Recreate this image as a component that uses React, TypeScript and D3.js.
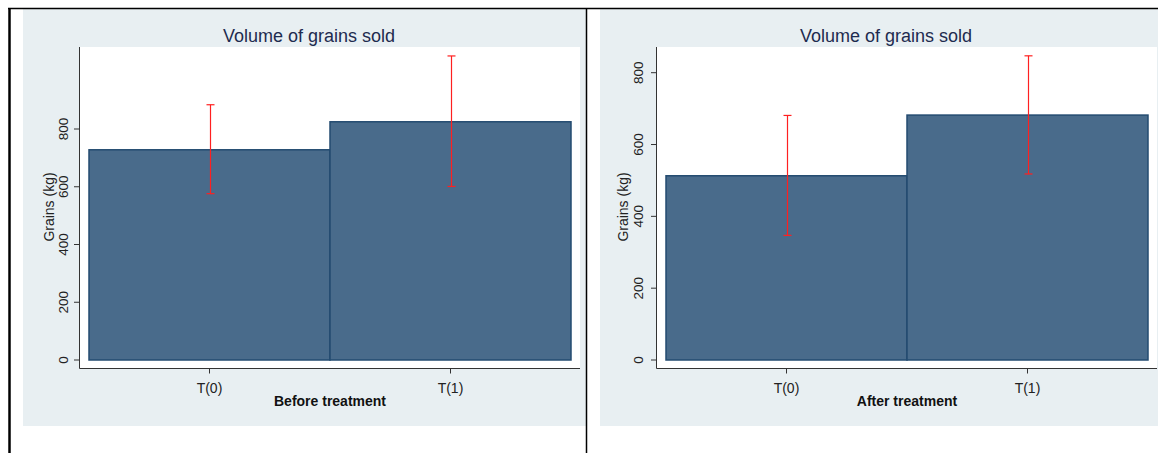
import React from "react";
import * as d3 from "d3";

const categories = ["T(0)", "T(1)"];
const yTicks = [0, 200, 400, 600, 800];
const titleText = "Volume of grains sold";
const yAxisTitle = "Grains (kg)";

const beforeMeans = [728, 825];
const beforeLow = [576, 601];
const beforeHigh = [884, 1053];

const afterMeans = [513, 682];
const afterLow = [347, 518];
const afterHigh = [681, 847];

const panelTitles = ["Before treatment", "After treatment"];

type PanelLayout = {
  bgX0: number; bgX1: number;
  axisX: number; plotX1: number;
  barX0: number; barX1: number;
  y0px: number; y800px: number;
  titleX: number; yTitleX: number; tickLabelX: number;
};

const layouts: PanelLayout[] = [
  { bgX0: 23, bgX1: 586, axisX: 80, plotX1: 580, barX0: 89, barX1: 571, y0px: 360, y800px: 129, titleX: 309, yTitleX: 54, tickLabelX: 68 },
  { bgX0: 600, bgX1: 1158, axisX: 657, plotX1: 1157, barX0: 666, barX1: 1148, y0px: 360, y800px: 72.7, titleX: 886, yTitleX: 628, tickLabelX: 643 },
];

const FONT = "Arial, 'Liberation Sans', Helvetica, sans-serif";
const BG = "#e8eff2";
const BAR_FILL = "#496b8b";
const BAR_STROKE = "#234b70";
const ERR = "#ff2020";

function Panel({ lay, means, lo, hi, xTitle }: { lay: PanelLayout; means: number[]; lo: number[]; hi: number[]; xTitle: string }) {
  const x = d3.scaleBand<string>().domain(categories).range([lay.barX0, lay.barX1]).padding(0);
  const y = d3.scaleLinear().domain([0, 800]).range([lay.y0px, lay.y800px]);
  const plotTop = 47;
  const axisY = 368.5;
  const capW = 4;
  return (
    <g>
      <rect x={lay.bgX0} y={9} width={lay.bgX1 - lay.bgX0} height={417} fill={BG} />
      <rect x={lay.axisX} y={plotTop} width={lay.plotX1 - lay.axisX} height={axisY - plotTop} fill="#ffffff" />
      <text x={lay.titleX} y={42} textAnchor="middle" fontFamily={FONT} fontSize={18} fill="#1e2b4f">{titleText}</text>
      {categories.map((c, i) => (
        <rect key={c} x={x(c)!} y={y(means[i])} width={x.bandwidth()} height={y(0) - y(means[i])}
          fill={BAR_FILL} stroke={BAR_STROKE} strokeWidth={1.5} />
      ))}
      {categories.map((c, i) => {
        const cx = Math.round(x(c)! + x.bandwidth() / 2) + 0.5;
        return (
          <g key={c} stroke={ERR} strokeWidth={1.2}>
            <line x1={cx} x2={cx} y1={y(hi[i])} y2={y(lo[i])} />
            <line x1={cx - capW} x2={cx + capW} y1={y(hi[i])} y2={y(hi[i])} />
            <line x1={cx - capW} x2={cx + capW} y1={y(lo[i])} y2={y(lo[i])} />
          </g>
        );
      })}
      {/* y axis */}
      <line x1={lay.axisX - 0.5} x2={lay.axisX - 0.5} y1={plotTop} y2={axisY} stroke="#333" strokeWidth={1} />
      {yTicks.map((t) => (
        <g key={t}>
          <line x1={lay.axisX - 6} x2={lay.axisX} y1={y(t)} y2={y(t)} stroke="#333" strokeWidth={1} />
          <text transform={`translate(${lay.tickLabelX},${y(t)}) rotate(-90)`} textAnchor="middle"
            fontFamily={FONT} fontSize={13.5} fill="#222">{t}</text>
        </g>
      ))}
      <text transform={`translate(${lay.yTitleX},207) rotate(-90)`} textAnchor="middle" fontFamily={FONT} fontSize={14} fill="#222">{yAxisTitle}</text>
      {/* x axis */}
      <line x1={lay.axisX - 0.5} x2={lay.plotX1} y1={axisY} y2={axisY} stroke="#333" strokeWidth={1} />
      {categories.map((c) => {
        const cx = x(c)! + x.bandwidth() / 2;
        return (
          <g key={c}>
            <line x1={cx} x2={cx} y1={axisY} y2={axisY + 5} stroke="#333" strokeWidth={1} />
            <text x={cx} y={393} textAnchor="middle" fontFamily={FONT} fontSize={14} fill="#222">{c}</text>
          </g>
        );
      })}
      <text x={(lay.barX0 + lay.barX1) / 2} y={406} textAnchor="middle" fontFamily={FONT} fontSize={14} fontWeight="bold" fill="#111">{xTitle}</text>
    </g>
  );
}

export default function App() {
  return (
    <svg width={1158} height={453} style={{ position: "absolute", left: 0, top: 0, background: "#ffffff" }}>
      <rect x={0} y={0} width={1158} height={453} fill="#ffffff" />
      <Panel lay={layouts[0]} means={beforeMeans} lo={beforeLow} hi={beforeHigh} xTitle={panelTitles[0]} />
      <Panel lay={layouts[1]} means={afterMeans} lo={afterLow} hi={afterHigh} xTitle={panelTitles[1]} />
      {/* frame lines */}
      <line x1={8} x2={1158} y1={8.5} y2={8.5} stroke="#000" strokeWidth={1.5} />
      <line x1={9.5} x2={9.5} y1={8} y2={453} stroke="#000" strokeWidth={2.5} />
      <line x1={586.5} x2={586.5} y1={8} y2={453} stroke="#000" strokeWidth={1.5} />
    </svg>
  );
}
